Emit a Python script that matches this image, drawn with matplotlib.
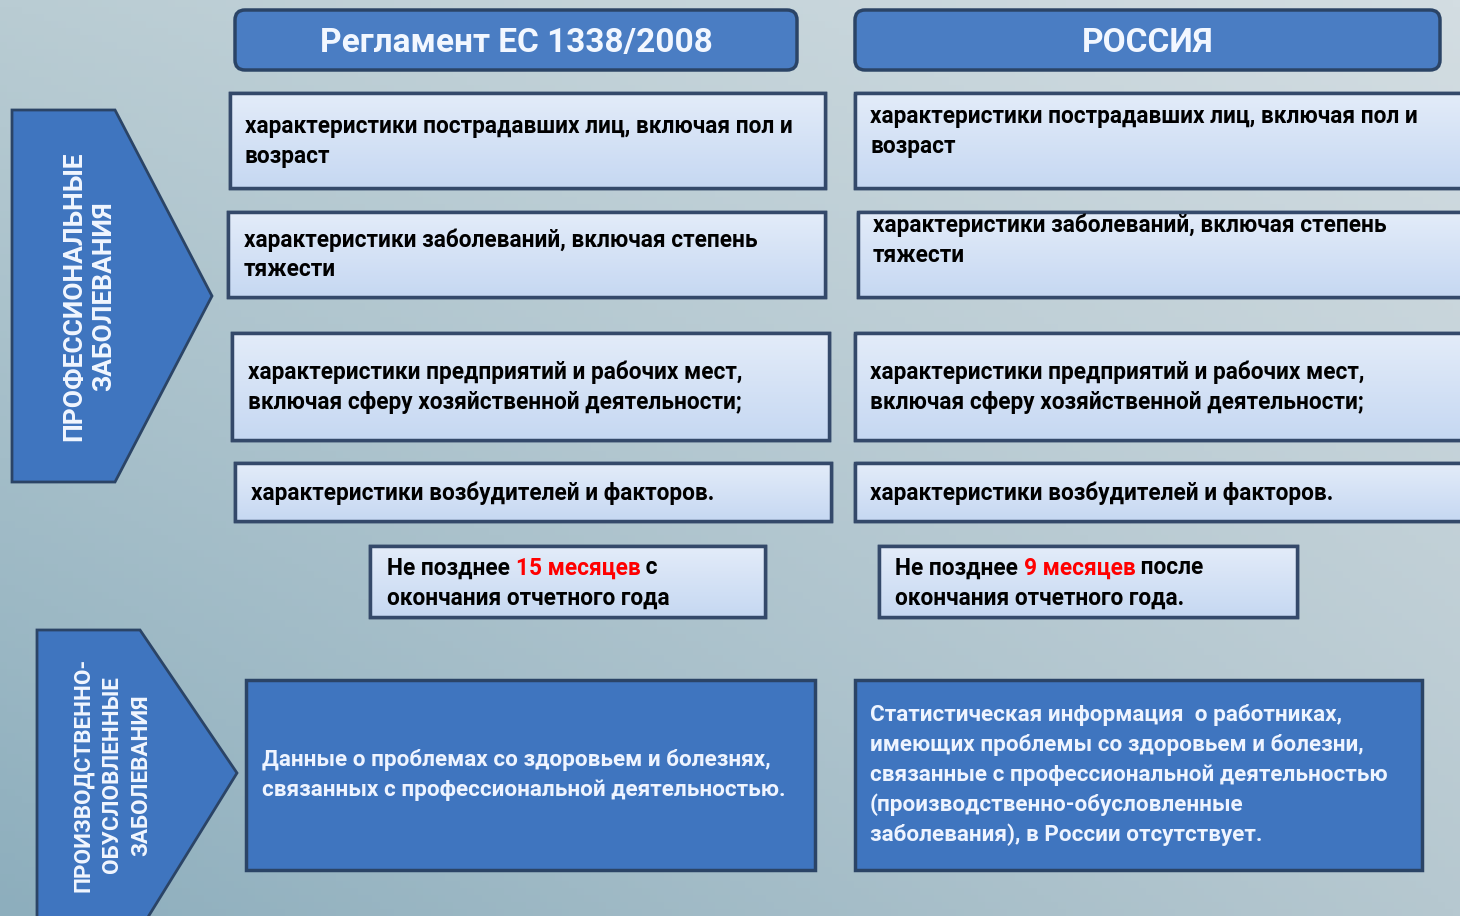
import numpy as np
import matplotlib.pyplot as plt
from matplotlib.patches import Polygon, Rectangle, FancyBboxPatch
from matplotlib.colors import to_rgb

plt.rcParams['font.family'] = ['Roboto', 'DejaVu Sans']

# texts of the diagram
col_titles = ["Регламент ЕС 1338/2008", "РОССИЯ"]
row_titles = ["ПРОФЕССИОНАЛЬНЫЕ\nЗАБОЛЕВАНИЯ",
              "ПРОИЗВОДСТВЕННО-\nОБУСЛОВЛЕННЫЕ\nЗАБОЛЕВАНИЯ"]
eu_items = [
    ["характеристики пострадавших лиц, включая пол и", "возраст"],
    ["характеристики заболеваний, включая степень", "тяжести"],
    ["характеристики предприятий и рабочих мест,", "включая сферу хозяйственной деятельности;"],
    ["характеристики возбудителей и факторов."],
]
ru_items = [
    ["характеристики пострадавших лиц, включая пол и", "возраст"],
    ["характеристики заболеваний, включая степень", "тяжести"],
    ["характеристики предприятий и рабочих мест,", "включая сферу хозяйственной деятельности;"],
    ["характеристики возбудителей и факторов."],
]
eu_deadline = [[("Не позднее ", "k"), ("15 месяцев", "red"), (" с", "k")],
               [("окончания отчетного года", "k")]]
ru_deadline = [[("Не позднее ", "k"), ("9 месяцев", "red"), (" после", "k")],
               [("окончания отчетного года.", "k")]]
eu_bottom = ["Данные о проблемах со здоровьем и болезнях,",
             "связанных с профессиональной деятельностью."]
ru_bottom = ["Статистическая информация  о работниках,",
             "имеющих проблемы со здоровьем и болезни,",
             "связанные с профессиональной деятельностью",
             "(производственно-обусловленные",
             "заболевания), в России отсутствует."]

# layout in pixels (x, y_top, width, height)
W, H = 1460, 916
head_boxes = [(235, 10, 562, 60), (855, 10, 585, 60)]
eu_boxes = [(230, 93, 595, 95), (228, 212, 597, 85), (232, 333, 597, 107), (235, 463, 596, 58)]
ru_boxes = [(855, 93, 610, 95), (858, 212, 610, 85), (855, 333, 610, 107), (855, 463, 610, 58)]
eu_text_pos = [(245, 127), (244, 240), (248, 372), (251, 493)]
ru_text_pos = [(870, 117), (873, 225), (870, 372), (870, 493)]
dl_boxes = [(370, 546, 395, 71), (879, 546, 418, 71)]
dl_text_pos = [(387, 568), (895, 568)]
bottom_boxes = [(246, 680, 569, 190), (855, 680, 567, 190)]
bottom_text_pos = [(262, 760), (870, 715)]
line_step = 30
body_size = 16.3

box_fill = "#d3e1f5"
box_edge = "#34496a"
dark_fill = "#3f75bf"
dark_edge = "#2b4466"
head_fill = "#4a7dc3"

fig = plt.figure(figsize=(W / 100, H / 100), dpi=100)
ax = fig.add_axes([0, 0, 1, 1])
ax.set_xlim(0, W)
ax.set_ylim(H, 0)
ax.axis("off")

# background gradient from corners
tl, tr = np.array(to_rgb("#b9ccd3")), np.array(to_rgb("#d3dde2"))
bl, br = np.array(to_rgb("#8daebd")), np.array(to_rgb("#b6c8d0"))
u = np.linspace(0, 1, 200)[None, :, None]
v = np.linspace(0, 1, 130)[:, None, None]
bg = (1 - v) * ((1 - u) * tl + u * tr) + v * ((1 - u) * bl + u * br)
ax.imshow(bg, extent=(0, W, H, 0), aspect="auto", zorder=0)


def light_box(x, y, w, h):
    r = Rectangle((x, y), w, h, facecolor=box_fill, edgecolor=box_edge, lw=2.5, zorder=2)
    ax.add_patch(r)
    grad = np.linspace(0, 1, 50)[:, None, None]
    img = (1 - grad) * np.array(to_rgb("#e3ecf9")) + grad * np.array(to_rgb("#c6d8f2"))
    im = ax.imshow(img, extent=(x, x + w, y + h, y), aspect="auto", zorder=2.1)
    im.set_clip_path(r)
    ax.add_patch(Rectangle((x, y), w, h, facecolor="none", edgecolor=box_edge, lw=2.5, zorder=2.2))


def lines(x, y, rows, color="black", size=body_size):
    for i, s in enumerate(rows):
        ax.text(x, y + i * line_step, s, color=color, fontsize=size, fontweight="bold",
                ha="left", va="center", zorder=3)


# column headers
for (x, y, w, h), title in zip(head_boxes, col_titles):
    ax.add_patch(FancyBboxPatch((x, y), w, h, boxstyle="round,pad=0,rounding_size=10",
                                facecolor=head_fill, edgecolor=dark_edge, lw=2.5, zorder=2))
    ax.text(x + w / 2, y + h / 2 + 3, title, color="#f2f7ff", fontsize=24, fontweight="bold",
            ha="center", va="center", zorder=3)

# row chevrons
chevrons = [[(12, 110), (115, 110), (212, 296), (115, 482), (12, 482)],
            [(37, 630), (140, 630), (237, 773), (140, 930), (37, 930)]]
chev_text = [(89, 296, 19, 1.3), (112, 775, 16.2, 1.4)]
for pts, label, (tx, ty, fs, ls) in zip(chevrons, row_titles, chev_text):
    ax.add_patch(Polygon(pts, closed=True, facecolor=dark_fill, edgecolor=dark_edge, lw=2, zorder=2))
    ax.text(tx, ty, label, color="#f2f7ff", fontsize=fs, fontweight="bold", rotation=90,
            ha="center", va="center", multialignment="center", linespacing=ls, zorder=3)

# item boxes
for box, pos, rows in zip(eu_boxes, eu_text_pos, eu_items):
    light_box(*box)
    lines(pos[0], pos[1], rows)
for box, pos, rows in zip(ru_boxes, ru_text_pos, ru_items):
    light_box(*box)
    lines(pos[0], pos[1], rows)

# deadline boxes with coloured parts
for box, pos, parts in zip(dl_boxes, dl_text_pos, [eu_deadline, ru_deadline]):
    light_box(*box)
    for i, row in enumerate(parts):
        prev = None
        for s, c in row:
            if prev is None:
                prev = ax.text(pos[0], pos[1] + i * line_step, s, color=c, fontsize=body_size,
                               fontweight="bold", ha="left", va="center", zorder=3)
            else:
                prev = ax.annotate(s, xy=(1, 0), xycoords=prev, color=c, fontsize=body_size,
                                   fontweight="bold", ha="left", va="bottom", zorder=3)

# bottom dark boxes
for (x, y, w, h), pos, rows in zip(bottom_boxes, bottom_text_pos, [eu_bottom, ru_bottom]):
    ax.add_patch(Rectangle((x, y), w, h, facecolor=dark_fill, edgecolor=dark_edge, lw=2.5, zorder=2))
    lines(pos[0], pos[1], rows, color="#eef4ff", size=16.2)

fig.savefig("out.png", dpi=100)
